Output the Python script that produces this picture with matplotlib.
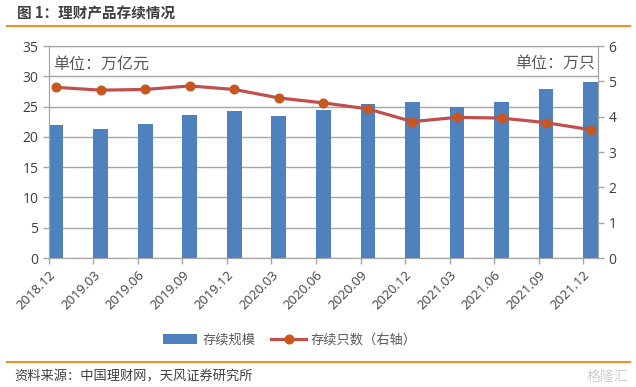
import matplotlib
matplotlib.use("Agg")
import matplotlib.pyplot as plt
import numpy as np

plt.rcParams['font.family'] = ['Noto Sans CJK SC', 'DejaVu Sans']

categories = ["2018.12", "2019.03", "2019.06", "2019.09", "2019.12", "2020.03", "2020.06",
              "2020.09", "2020.12", "2021.03", "2021.06", "2021.09", "2021.12"]
scale = [22.0, 21.3, 22.1, 23.6, 24.2, 23.4, 24.5, 25.5, 25.8, 24.9, 25.8, 27.9, 29.0]
count = [4.83, 4.75, 4.77, 4.87, 4.77, 4.53, 4.39, 4.22, 3.86, 3.98, 3.96, 3.83, 3.63]
left_ticks = [0, 5, 10, 15, 20, 25, 30, 35]
right_ticks = [0, 1, 2, 3, 4, 5, 6]

W, H = 636, 387
fig = plt.figure(figsize=(W / 100, H / 100), dpi=100)
ax = fig.add_axes([48.7 / W, 1 - 258 / H, (598 - 48.7) / W, (258 - 46) / H])
ax2 = ax.twinx()

x = np.arange(len(categories))
bw = 0.33
gray = '#A6A6A6'
tickc = '#404040'

ax.bar(x + bw / 2, scale, width=bw, color='#4F81BD', zorder=3, label='存续规模')
ax.set_ylim(0, 35)
ax.set_yticks(left_ticks)
ax.set_xlim(0, len(categories) - 1 + bw)
ax.set_xticks(x)
ax.set_xticklabels(categories, rotation=45, ha='right', va='top', rotation_mode='anchor',
                   fontsize=9.5, color=tickc, family=['Open Sans', 'DejaVu Sans'])
ax.grid(axis='y', color=gray, linewidth=1, zorder=0)
ax.set_axisbelow(True)
for s in ax.spines.values():
    s.set_color(gray)
ax.tick_params(axis='y', colors=gray, labelcolor=tickc, labelsize=10, length=4, width=1)
ax.tick_params(axis='x', colors=gray, labelcolor=tickc, length=4, width=1)
for lab in ax.get_yticklabels():
    lab.set_family(['Open Sans', 'DejaVu Sans'])

ax2.plot(x + bw / 2, count, color='#C0504D', linewidth=2.3, marker='o', markersize=6.2,
         markerfacecolor='#C9561F', markeredgecolor='#C9561F', zorder=4, label='存续只数（右轴）')
ax2.set_ylim(0, 6)
ax2.set_yticks(right_ticks)
for s in ax2.spines.values():
    s.set_color(gray)
ax2.tick_params(axis='y', colors=gray, labelcolor=tickc, labelsize=10, length=4, width=1)
for lab in ax2.get_yticklabels():
    lab.set_family(['Open Sans', 'DejaVu Sans'])

ax.text(0.008, 0.955, '单位：万亿元', transform=ax.transAxes, ha='left', va='top',
        fontsize=11.5, color='#595959')
ax.text(0.995, 0.955, '单位：万只', transform=ax.transAxes, ha='right', va='top',
        fontsize=11.5, color='#595959')

h1, l1 = ax.get_legend_handles_labels()
h2, l2 = ax2.get_legend_handles_labels()
fig.legend(h1 + h2, l1 + l2, loc='center', bbox_to_anchor=(290 / W, 1 - 340 / H), ncol=2,
           frameon=False, fontsize=9.5, handlelength=2.6, columnspacing=1.2,
           labelcolor='#595959', handletextpad=0.4)

fig.text(17 / W, 1 - 14 / H, '图 1：理财产品存续情况', ha='left', va='center', fontsize=10.5,
         fontweight='bold', color='#404040')
fig.add_artist(plt.Line2D([7 / W, 630 / W], [1 - 25.5 / H, 1 - 25.5 / H], color='#F28C28', linewidth=1.5))
fig.add_artist(plt.Line2D([7 / W, 630 / W], [1 - 362 / H, 1 - 362 / H], color='#F28C28', linewidth=1.5))
fig.text(14 / W, 1 - 377 / H, '资料来源：中国理财网，天风证券研究所', ha='left', va='center',
         fontsize=9.5, color='#404040')
fig.text(628 / W, 1 - 377 / H, '格隆汇', ha='right', va='center', fontsize=10, color='#D0D0D0')

fig.savefig('out.png', dpi=100)
